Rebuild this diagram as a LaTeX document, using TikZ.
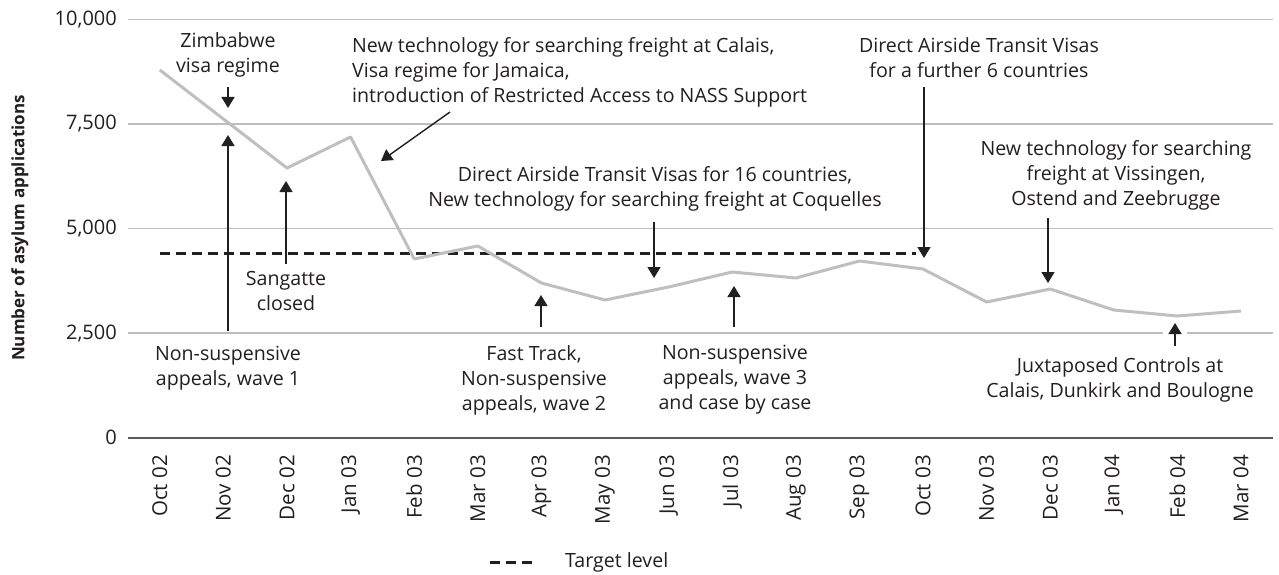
\documentclass[tikz,border=0pt]{standalone}
\usepackage{fontspec}
\setmainfont{Open Sans}
\usetikzlibrary{arrows.meta}
\definecolor{txt}{HTML}{231F20}
\definecolor{gridc}{HTML}{BDBDBD}
\definecolor{axisc}{HTML}{5A5A5A}
\definecolor{seriesc}{HTML}{BFBFBF}
\tikzset{
  lbl/.style={font=\fontsize{19.6}{25}\selectfont, text=txt, align=center, inner sep=0pt},
  ticklbl/.style={font=\fontsize{20}{23}\selectfont, text=txt, anchor=east, inner sep=0pt},
  monthlbl/.style={font=\fontsize{20.5}{23}\selectfont, text=txt, anchor=east, rotate=90, inner sep=0pt},
  evarrow/.style={draw=txt, line width=1.4pt, -{Triangle[width=13pt,length=11pt]}},
  gridl/.style={draw=gridc, line width=1.3pt},
  axisl/.style={draw=axisc, line width=1.8pt},
  seriesl/.style={draw=seriesc, line width=3pt, line join=round},
  target/.style={draw=txt, line width=3pt, dash pattern=on 10pt off 6pt}
}
\begin{document}
\begin{tikzpicture}[x=1pt,y=-1pt]
\useasboundingbox[fill=white] (0,0) rectangle (1279,575);
% gridlines
\draw[gridl] (128,19.3) -- (1273,19.3);
\draw[gridl] (128,123.9) -- (1273,123.9);
\draw[gridl] (128,228.5) -- (1273,228.5);
\draw[gridl] (128,333.1) -- (1273,333.1);
\draw[axisl] (128,437.7) -- (1273,437.7);
% tick labels
\node[ticklbl] (t10) at (117,19.3) {10,000};
\node[ticklbl] (t75) at (117,123.9) {7,500};
\node[ticklbl] (t50) at (117,228.5) {5,000};
\node[ticklbl] (t25) at (117,333.1) {2,500};
\node[ticklbl] (t0) at (117,437.7) {0};
% axis title
\node[font=\bfseries\fontsize{17}{20}\selectfont, text=txt, rotate=90] (ytitle) at (20,228) {Number of asylum applications};
% month labels
\foreach \m [count=\i from 0] in {Oct 02,Nov 02,Dec 02,Jan 03,Feb 03,Mar 03,Apr 03,May 03,Jun 03,Jul 03,Aug 03,Sep 03,Oct 03,Nov 03,Dec 03,Jan 04,Feb 04,Mar 04}{
  \node[monthlbl] (m\i) at ({159.8+63.6*\i},455) {\m};
}
% target level
\draw[target] (159.8,253) -- (916,253);
% series
\draw[seriesl] (159.8,70) -- (223.4,119) -- (287,168) -- (350.6,137) -- (414.2,259) -- (477.8,246) -- (541.4,283) -- (605,300) -- (668.6,287) -- (732.2,272) -- (795.8,278) -- (859.4,261) -- (923,269) -- (986.6,302) -- (1050.2,289) -- (1113.8,310) -- (1177.4,316) -- (1241,311);
% annotations
\node[lbl] (zim) at (228,55) {Zimbabwe\\visa regime};
\coordinate (zimS) at (228,87); \coordinate (zimE) at (228,108);
\draw[evarrow] (zimS) -- (zimE);

\node[lbl] (nsa1) at (228,368) {Non-suspensive\\appeals, wave 1};
\coordinate (nsa1S) at (228,331); \coordinate (nsa1E) at (228,135);
\draw[evarrow] (nsa1S) -- (nsa1E);

\node[lbl] (sang) at (286,291) {Sangatte\\closed};
\coordinate (sangS) at (286,264); \coordinate (sangE) at (286,181);
\draw[evarrow] (sangS) -- (sangE);

\node[lbl, align=left, anchor=west] (calais) at (352,72) {New technology for searching freight at Calais,\\Visa regime for Jamaica,\\introduction of Restricted Access to NASS Support};
\coordinate (calS) at (450,112); \coordinate (calE) at (381,161);
\draw[evarrow] (calS) -- (calE);

\node[lbl] (datv16) at (655,189) {Direct Airside Transit Visas for 16 countries,\\New technology for searching freight at Coquelles};
\coordinate (d16S) at (654,222); \coordinate (d16E) at (654,278);
\draw[evarrow] (d16S) -- (d16E);

\node[lbl] (datv6) at (979,58) {Direct Airside Transit Visas\\for a further 6 countries};
\coordinate (d6S) at (924,87); \coordinate (d6E) at (924,258);
\draw[evarrow] (d6S) -- (d6E);

\node[lbl] (viss) at (1116,175) {New technology for searching\\freight at Vissingen,\\Ostend and Zeebrugge};
\coordinate (vsS) at (1048,218); \coordinate (vsE) at (1048,283);
\draw[evarrow] (vsS) -- (vsE);

\node[lbl] (juxt) at (1120,380) {Juxtaposed Controls at\\Calais, Dunkirk and Boulogne};
\fill[white] (1163,326) rectangle (1187,340);
\coordinate (jxS) at (1175,346); \coordinate (jxE) at (1175,323);
\draw[evarrow] (jxS) -- (jxE);

\node[lbl] (fast) at (534,380) {Fast Track,\\Non-suspensive\\appeals, wave 2};
\coordinate (ftS) at (541,327); \coordinate (ftE) at (541,295);
\draw[evarrow] (ftS) -- (ftE);

\node[lbl] (nsa3) at (735,380) {Non-suspensive\\appeals, wave 3\\and case by case};
\coordinate (n3S) at (734,327); \coordinate (n3E) at (734,286);
\draw[evarrow] (n3S) -- (n3E);

% legend
\coordinate (legA) at (490,562); \coordinate (legB) at (537,562);
\draw[target] (legA) -- (legB);
\node[font=\fontsize{19.6}{23}\selectfont, text=txt, anchor=west, inner sep=0pt] (legT) at (565,562) {Target level};
\end{tikzpicture}
\end{document}
